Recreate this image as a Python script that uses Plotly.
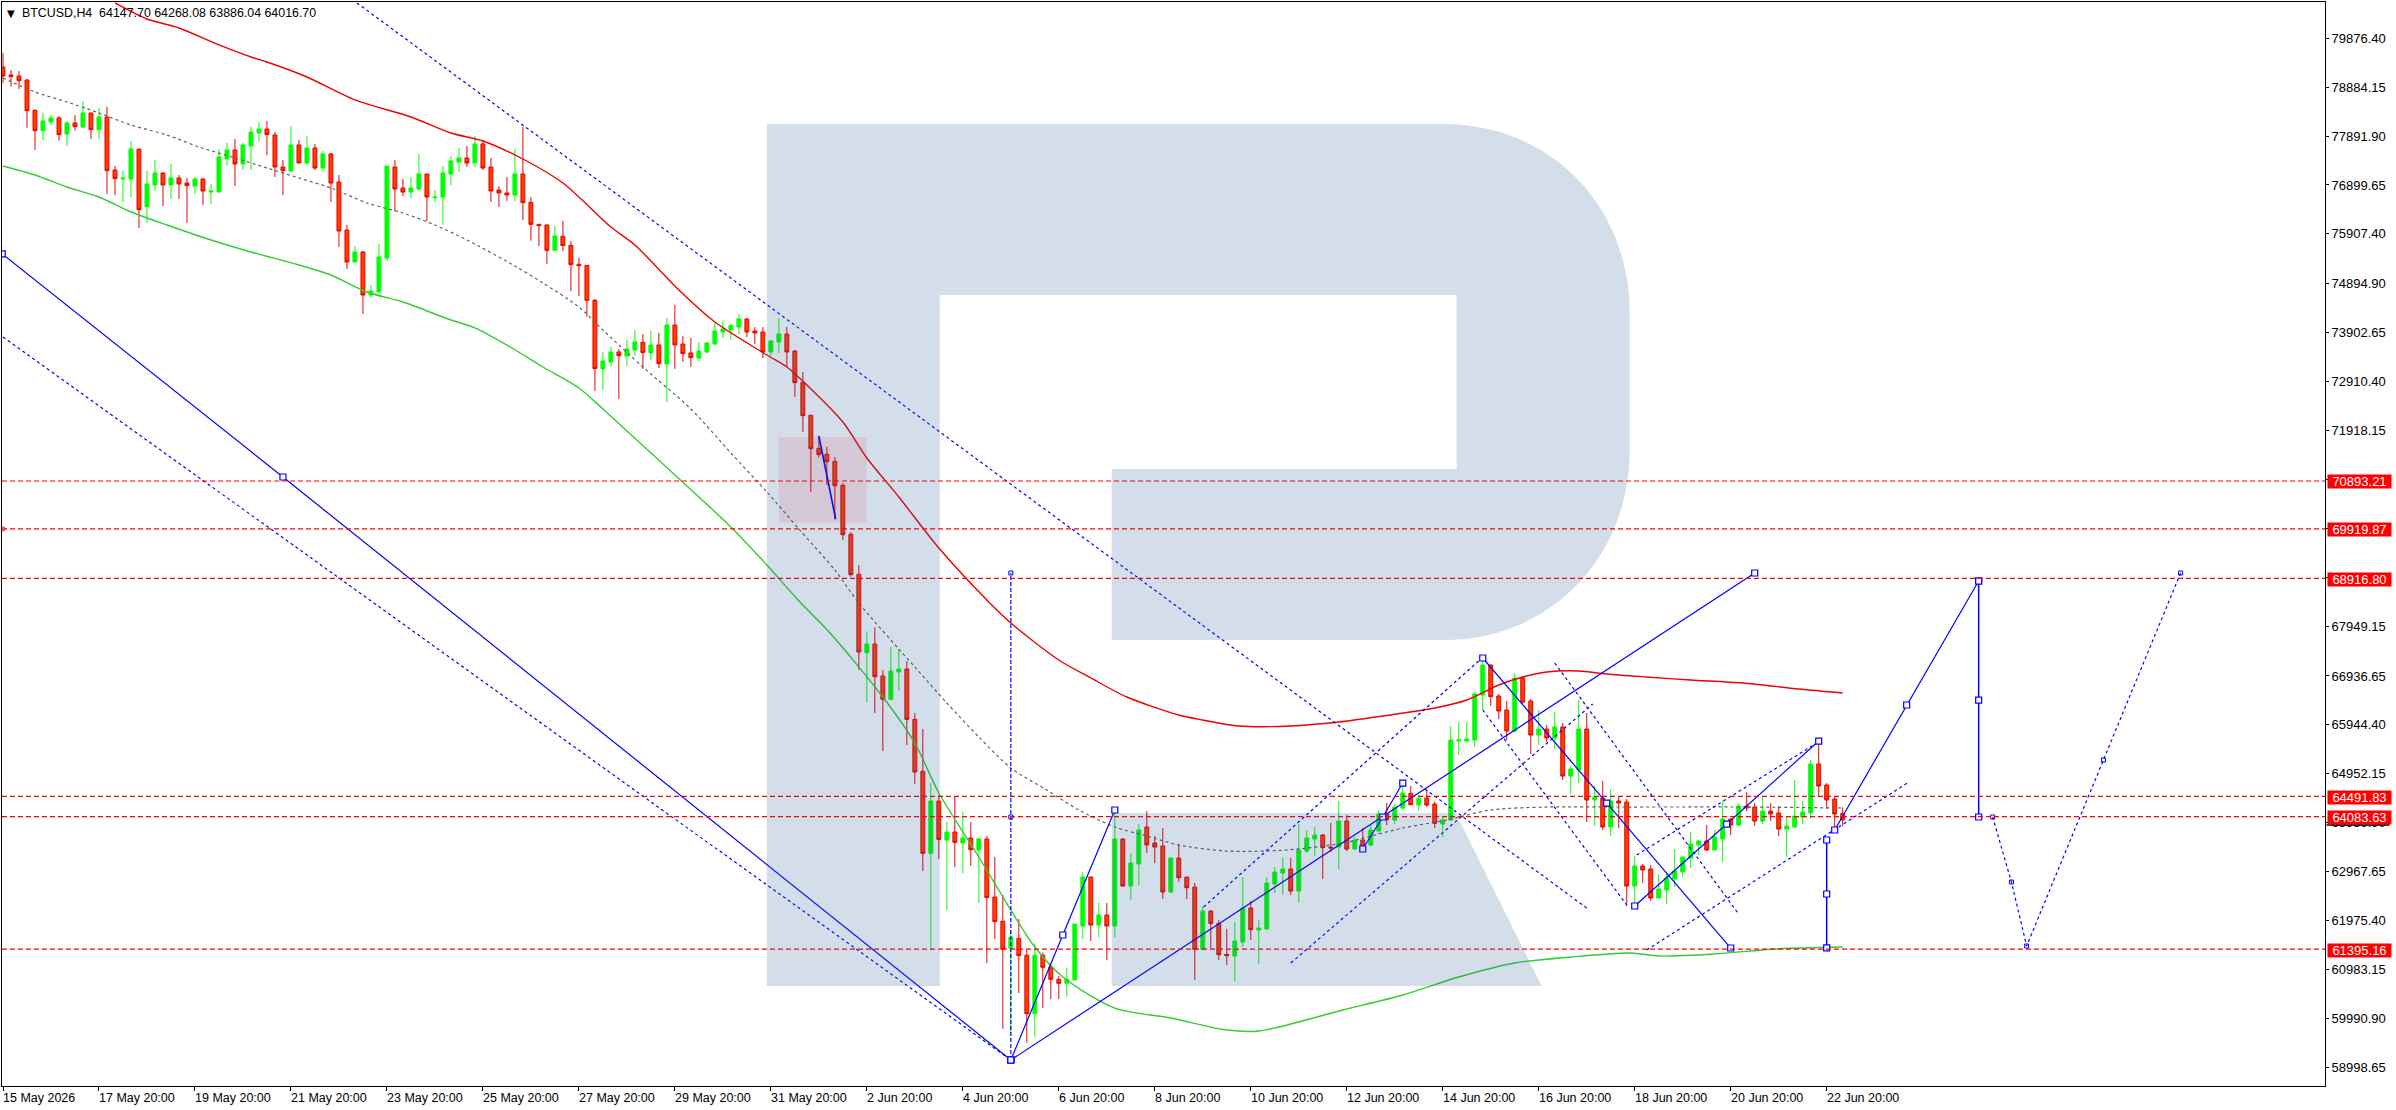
"""
BTCUSD H4 terminal chart with forecast drawing objects.
"""

import plotly.graph_objects as go

opens = [
    79294, 79132, 79111, 79030, 78415, 78002, 78178, 78259, 77934, 78158,
    78076, 78361, 78022, 78279, 77204, 77021, 77021, 77630, 76460, 76900,
    77143, 76900, 77042, 76940, 76879, 77021, 76757, 76757, 77427, 77610,
    77326, 77691, 77955, 78036, 77914, 77265, 77184, 77711, 77346, 77650,
    77244, 77529, 76960, 75986, 75337, 75540, 74667, 74728, 75418, 77265,
    76839, 76757, 76818, 77123, 76642, 76656, 77123, 77366, 77447, 77346,
    77732, 77265, 76798, 76737, 76697, 77123, 76548, 76101, 76088, 75574,
    75858, 75675, 75290, 75269, 74559, 73166, 73308, 73511, 73430, 73551,
    73707, 73491, 73653, 73267, 74059, 73673, 73491, 73389, 73511, 73673,
    73917, 73957, 74018, 74180, 73937, 73917, 73511, 73714, 73876, 73531,
    72895, 72226, 71556, 71434, 71292, 70805, 69811, 69000, 67409, 67585,
    66936, 66462, 67017, 67078, 66056, 65001, 63337, 64399, 63608, 63770,
    63547, 63648, 63405, 63628, 62451, 61958, 61410, 61613, 61268, 60083,
    61268, 61024, 60781, 60700, 60767, 61863, 62857, 61883, 62086, 61863,
    63628, 62675, 63121, 63872, 63547, 63486, 62553, 63242, 62856, 62653,
    61388, 62166, 61916, 61287, 61253, 61537, 62227, 61781, 61801, 62714,
    62937, 63019, 62572, 63384, 63627, 63709, 63465, 63465, 63993, 63425,
    63607, 63506, 63790, 64135, 64013, 64256, 64554, 64317, 64459, 64338,
    63932, 64014, 65617, 65617, 65637, 66550, 67159, 66530, 66246, 65820,
    66895, 66428, 65738, 65860, 65678, 65901, 64906, 65028, 65860, 64419,
    64460, 63872, 64399, 64379, 62674, 63080, 63019, 62431, 62593, 62816,
    62959, 63243, 63506, 63588, 63405, 63628, 64034, 63912, 64298, 64277,
    63993, 64196, 64156, 63831, 63872, 64074, 64156, 65150, 64724, 64440,
    64147.70,
]
highs = [
    79578, 79233, 79213, 79050, 78435, 78367, 78320, 78300, 78198, 78320,
    78604, 78367, 78469, 78489, 77285, 77184, 77792, 77630, 77184, 77407,
    77163, 77326, 77102, 77042, 77062, 77042, 76920, 77630, 77752, 77833,
    77752, 78076, 78178, 78198, 77975, 77407, 78097, 77813, 77894, 77732,
    77589, 77549, 77102, 76088, 75662, 75560, 74870, 75702, 77285, 77407,
    77021, 77062, 77529, 77123, 76798, 77285, 77488, 77650, 77691, 77894,
    77813, 77447, 76879, 77062, 77630, 78077, 76649, 76101, 76101, 76068,
    76169, 75763, 75418, 75276, 74586, 73511, 73612, 73572, 73754, 73957,
    73876, 73937, 73896, 74201, 74465, 73836, 73795, 73714, 73714, 74099,
    74140, 74079, 74282, 74201, 74018, 74018, 73754, 74201, 74018, 73551,
    73105, 72232, 71806, 71590, 71380, 70853, 69858, 69188, 67842, 67923,
    67058, 67524, 67477, 67240, 66185, 65860, 64765, 64521, 63973, 64487,
    64176, 63973, 63648, 63689, 63263, 62492, 61781, 62005, 61376, 61511,
    61322, 61092, 60848, 61011, 61903, 62959, 62857, 62330, 62330, 64149,
    63648, 63344, 63933, 64196, 63689, 63851, 63243, 63526, 62856, 62735,
    62268, 62187, 61984, 61801, 61943, 62856, 62369, 61984, 62856, 63059,
    63262, 63242, 63932, 63810, 63871, 63729, 63952, 64398, 64114, 63668,
    63851, 63912, 64216, 64358, 64338, 64723, 64703, 64520, 64622, 64386,
    64095, 65921, 66002, 66002, 66611, 67294, 67159, 66570, 66428, 66997,
    66915, 66469, 66246, 65941, 66205, 65982, 65109, 66449, 66185, 64704,
    64805, 64643, 64501, 64440, 63283, 63121, 63101, 62918, 62918, 63425,
    63263, 63770, 63608, 63912, 63811, 64399, 64034, 64359, 64582, 64359,
    64501, 64359, 64298, 64095, 64825, 64399, 65231, 65610, 64764, 64501,
    64268.08,
]
lows = [
    78970, 78895, 78848, 78063, 77610, 77813, 78117, 77799, 77691, 78002,
    78056, 77833, 77826, 76717, 76697, 76555, 76656, 76027, 76128, 76778,
    76473, 76615, 76615, 76128, 76717, 76494, 76514, 76757, 77305, 76879,
    77204, 77204, 77772, 77508, 77062, 76697, 77163, 77346, 77305, 77204,
    77163, 76555, 75641, 75195, 75337, 74282, 74607, 74728, 75357, 76372,
    76676, 76636, 76798, 76169, 76555, 76088, 76900, 77163, 77265, 77265,
    77204, 76555, 76453, 76575, 76575, 76189, 75770, 75662, 75297, 75560,
    75560, 74749, 74647, 74228, 72719, 72740, 73213, 72557, 73227, 73430,
    73166, 73348, 73186, 72496, 73166, 73308, 73206, 73328, 73491, 73653,
    73795, 73754, 73876, 73815, 73673, 73389, 73430, 73491, 73206, 72598,
    71887, 70670, 71367, 70812, 70115, 69696, 68952, 67058, 66408, 66185,
    65414, 66462, 66631, 65536, 64744, 62979, 61376, 63222, 62187, 63060,
    62938, 63080, 62330, 61112, 61599, 59778, 59651, 60503, 59494, 59616,
    60198, 60381, 60381, 60428, 60767, 61599, 61558, 61640, 61173, 61640,
    62654, 62390, 62695, 63344, 63141, 62411, 62532, 62755, 62410, 60766,
    61375, 61409, 61172, 61071, 60746, 61436, 61578, 61091, 61801, 62532,
    62491, 62491, 62329, 63343, 63282, 62816, 63364, 63019, 63384, 63404,
    63364, 63485, 63729, 63912, 63932, 64216, 64317, 64196, 64277, 63851,
    63669, 63993, 65333, 65596, 65495, 66246, 66327, 66063, 65637, 65799,
    66367, 65353, 65535, 65596, 65454, 64825, 64541, 64764, 63973, 63892,
    63811, 63689, 63851, 62268, 62268, 62735, 62370, 62431, 62309, 62654,
    62857, 63040, 63303, 63385, 63405, 63161, 63709, 63892, 64196, 63892,
    63932, 63993, 63689, 63263, 63851, 63932, 64034, 64501, 64237, 63811,
    63886.04,
]
closes = [
    79112, 79098, 79017, 78408, 78002, 78198, 78259, 77921, 78158, 78083,
    78361, 78022, 78279, 77190, 77028, 77042, 77630, 76399, 76920, 77143,
    76900, 77042, 76920, 76886, 77021, 76778, 76778, 77468, 77610, 77326,
    77711, 77975, 78036, 77921, 77265, 77190, 77711, 77346, 77650, 77244,
    77529, 76940, 75966, 75337, 75540, 74667, 74749, 75438, 77285, 76818,
    76757, 76839, 77123, 76656, 76656, 77143, 77387, 77447, 77346, 77732,
    77244, 76778, 76737, 76697, 77123, 76541, 76101, 76074, 75574, 75865,
    75669, 75283, 75263, 74559, 73173, 73328, 73511, 73436, 73572, 73714,
    73497, 73653, 73274, 74059, 73653, 73477, 73396, 73531, 73693, 73937,
    73978, 74045, 74180, 73917, 73896, 73511, 73734, 73876, 73511, 72889,
    72219, 71549, 71428, 71285, 70798, 69804, 68993, 67423, 67585, 66922,
    66462, 67037, 67078, 66056, 64988, 63337, 64399, 63621, 63770, 63561,
    63648, 63412, 63628, 62438, 61951, 61390, 61633, 61261, 60083, 61268,
    61024, 60781, 60700, 60781, 61903, 62857, 61883, 62086, 61863, 63628,
    62675, 63141, 63811, 63507, 63466, 62553, 63243, 62843, 62640, 61388,
    62166, 61916, 61280, 61260, 61558, 62227, 61788, 61821, 62735, 62958,
    63019, 62572, 63404, 63648, 63709, 63452, 63445, 63993, 63425, 63607,
    63485, 63810, 64135, 64020, 64277, 64561, 64324, 64459, 64317, 63946,
    64014, 65637, 65637, 65657, 66570, 67159, 66516, 66225, 65820, 66895,
    66408, 65738, 65860, 65678, 65901, 64906, 65049, 65860, 64419, 64480,
    63872, 64399, 64359, 62674, 63080, 63000, 62431, 62613, 62837, 62979,
    63263, 63527, 63588, 63405, 63669, 64034, 63912, 64298, 64257, 63993,
    64196, 64135, 63831, 63892, 64095, 64176, 65150, 64703, 64419, 64135,
    64016.70,
]
bars = list(range(len(closes)))

# Bollinger style envelope, sampled along the curve
upper_x = [14, 18, 22, 27, 31, 33, 38, 44, 51, 56, 60, 65, 70, 76, 79, 84.5, 89, 95.5, 98, 100.5,
           105, 108, 112, 117, 123, 126, 132, 136, 140.5, 147, 150, 154.5, 161, 167, 172.5, 179,
           183, 187, 190, 193, 197, 200.5, 205.5, 211, 217.5, 224.5, 230]
upper_y = [80593, 80268, 80086, 79741, 79497, 79396, 79091, 78625, 78280, 77955, 77793, 77427,
           76940, 76047, 75682, 74769, 74119, 73450, 73207, 72841, 72090, 71360, 70568, 69533,
           68478, 68011, 67260, 66896, 66510, 66145, 66043, 65921, 65921, 66002, 66124, 66286,
           66449, 66753, 66915, 67017, 67037, 66976, 66915, 66855, 66794, 66672, 66591]
middle_x = [0, 4, 8, 12, 16, 20.5, 24.5, 29, 33, 37, 41, 45.5, 50, 54, 58, 64, 67.5, 72, 75, 80,
            86, 91, 95.5, 99.6, 104, 107, 114, 118, 122, 126, 130.5, 134.5, 139, 143, 147, 153,
            160.5, 167.5, 175, 180.5, 186, 193, 203.5, 218, 230]
middle_y = [79071, 78787, 78584, 78361, 78117, 77914, 77671, 77448, 77245, 77042, 76839, 76535,
            76332, 76088, 75784, 75256, 74911, 74424, 73957, 73206, 72354, 71461, 70670, 69899,
            69087, 68417, 67118, 66388, 65698, 65069, 64622, 64217, 63872, 63689, 63506, 63384,
            63405, 63547, 63851, 64014, 64217, 64277, 64277, 64277, 64257]
lower_x = [0, 4, 8, 12, 16, 20.5, 26, 31, 37, 41, 45.5, 50, 56, 59, 63.4, 67.5, 72, 75, 87, 91,
           95.5, 99.4, 103.4, 110, 114, 117, 122, 126, 129, 132.5, 139, 146, 153, 157, 167.5,
           175, 182, 189, 196, 203.5, 207, 214, 221.5, 230]
lower_y = [77286, 77103, 76859, 76656, 76352, 76088, 75784, 75540, 75276, 75073, 74728, 74525,
           74160, 73998, 73612, 73206, 72780, 72354, 70568, 69960, 69188, 68478, 67808, 66509,
           65576, 64561, 63263, 62187, 61436, 60828, 60198, 59996, 59752, 59732, 60158, 60462,
           60828, 61112, 61234, 61315, 61254, 61295, 61396, 61436]

# Horizontal levels
level_prices = [70893.21, 69919.87, 68916.80, 64491.83, 64083.63, 61395.16]

# Price scale
price_ticks = [79876.40, 78884.15, 77891.90, 76899.65, 75907.40, 74894.90, 73902.65, 72910.40,
               71918.15, 70925.90, 69933.65, 68941.40, 67949.15, 66936.65, 65944.40, 64952.15,
               63959.90, 62967.65, 61975.40, 60983.15, 59990.90, 58998.65]

# Time scale
time_ticks = list(range(0, 229, 12))
time_labels = ["15 May 2026", "17 May 20:00", "19 May 20:00", "21 May 20:00", "23 May 20:00",
               "25 May 20:00", "27 May 20:00", "29 May 20:00", "31 May 20:00", "2 Jun 20:00",
               "4 Jun 20:00", "6 Jun 20:00", "8 Jun 20:00", "10 Jun 20:00", "12 Jun 20:00",
               "14 Jun 20:00", "16 Jun 20:00", "18 Jun 20:00", "20 Jun 20:00", "22 Jun 20:00"]

# Drawing objects: solid blue waves with anchor points
drop_x = [-0.1, 35, 126]
drop_y = [75500, 70974, 59144]
rise_long_x = [126, 219]
rise_long_y = [59144, 69026]
rise_first_x = [126, 132.5, 139]
rise_first_y = [59144, 61680, 64217]
rise_small_x = [170, 172.5, 175]
rise_small_y = [63425, 64075, 64764]
fall_x = [185, 200.5, 216]
fall_y = [67301, 64358, 61416]
rise_june_x = [204, 215.5, 227]
rise_june_y = [62269, 63932, 65616]
target_x = [229, 238, 247]
target_y = [63811, 66347, 68864]
range_left_x = [228, 228, 228]
range_left_y = [63608, 62512, 61417]
range_right_x = [247, 247, 247]
range_right_y = [68864, 66448, 64075]

# Short solid segment over the candles
swing_x = [102, 104.1]
swing_y = [71806, 70122]

# Dashed channels
drop_edge_x = [0, 126]
drop_edge_y = [73815, 59144]
drop_top_x = [44.25, 198]
drop_top_y = [80593, 62228]
rise_edge_up_x = [150.1, 184.9]
rise_edge_up_y = [62248, 67301]
rise_edge_low_x = [161, 198.75]
rise_edge_low_y = [61112, 66368]
fall_edge_a_x = [185, 203]
fall_edge_a_y = [66246, 62289]
fall_edge_b_x = [194, 216.9]
fall_edge_b_y = [67200, 62127]
june_edge_up_x = [204.25, 226.75]
june_edge_up_y = [63304, 65576]
june_edge_low_x = [205.5, 238.1]
june_edge_low_y = [61376, 64765]
forecast_x = [248.75, 251.1, 253, 262.6, 272.25]
forecast_y = [64075, 62755, 61457, 65231, 69026]
drop_range_x = [126, 126, 126]
drop_range_y = [59144, 64075, 69026]

# Alert mark on the left edge
alert_x = [0]
alert_y = [69919.87]

# Pink zone behind the candles
zone_x = [97, 108]
zone_y = [70046, 71786]

BLUE = "#0000ff"
RED = "#ff0000"
FONT = "Liberation Sans"

PLOT_LEFT, PLOT_RIGHT, PLOT_TOP, PLOT_BOTTOM = 2, 2325.5, 2, 1086


def paper_x(px):
    return (px - PLOT_LEFT) / (PLOT_RIGHT - PLOT_LEFT)


def paper_y(px):
    return (PLOT_BOTTOM - px) / (PLOT_BOTTOM - PLOT_TOP)


def logo_path(commands):
    """Build an SVG path for the watermark from window pixel positions."""
    parts = []
    for cmd, *pts in commands:
        coords = " ".join(f"{paper_x(x):.5f},{paper_y(y):.5f}" for x, y in pts)
        parts.append(f"{cmd} {coords}")
    return " ".join(parts) + " Z"


def add_line(fig, x, y, width=1.2, dash="solid", anchors=False, small=False):
    mode = "lines+markers" if anchors or small else "lines"
    marker = dict(symbol="square", size=6, color="white", line=dict(color=BLUE, width=1.2))
    if small:
        marker = dict(symbol="square-open", size=4, color=BLUE, line=dict(color=BLUE, width=1))
    fig.add_trace(go.Scatter(
        x=x, y=y,
        mode=mode,
        line=dict(color=BLUE, width=width, dash=dash),
        marker=marker,
        hoverinfo="skip",
    ))


fig = go.Figure()

fig.add_trace(go.Candlestick(
    x=bars, open=opens, high=highs, low=lows, close=closes,
    increasing=dict(line=dict(color="#00ff00", width=1), fillcolor="#00ff00"),
    decreasing=dict(line=dict(color="#f00000", width=1), fillcolor="#ff3c00"),
    whiskerwidth=0,
    hoverinfo="skip",
))

# Envelope
fig.add_trace(go.Scatter(x=upper_x, y=upper_y, mode="lines", hoverinfo="skip",
                         line=dict(color="#f00000", width=1.4, shape="spline", smoothing=0.8)))
fig.add_trace(go.Scatter(x=middle_x, y=middle_y, mode="lines", hoverinfo="skip",
                         line=dict(color="#606060", width=1.2, dash="3px,3px", shape="spline",
                                   smoothing=0.8)))
fig.add_trace(go.Scatter(x=lower_x, y=lower_y, mode="lines", hoverinfo="skip",
                         line=dict(color="#32cd32", width=1.4, shape="spline", smoothing=0.8)))

# Dashed objects
for x, y in [(drop_edge_x, drop_edge_y), (drop_top_x, drop_top_y),
             (rise_edge_up_x, rise_edge_up_y), (rise_edge_low_x, rise_edge_low_y),
             (fall_edge_a_x, fall_edge_a_y), (fall_edge_b_x, fall_edge_b_y),
             (june_edge_up_x, june_edge_up_y), (june_edge_low_x, june_edge_low_y)]:
    add_line(fig, x, y, dash="3px,3px")
add_line(fig, forecast_x, forecast_y, dash="3px,3px", small=True)
add_line(fig, drop_range_x, drop_range_y, dash="4px,2px", small=True)

# Solid objects
add_line(fig, swing_x, swing_y, width=1.6)
add_line(fig, drop_x, drop_y, anchors=True)
add_line(fig, rise_long_x, rise_long_y, anchors=True)
for x, y in [(rise_first_x, rise_first_y), (rise_small_x, rise_small_y), (fall_x, fall_y),
             (rise_june_x, rise_june_y), (target_x, target_y)]:
    add_line(fig, x, y, anchors=True)
for x, y in [(range_left_x, range_left_y), (range_right_x, range_right_y)]:
    add_line(fig, x, y, width=1.5, anchors=True)

fig.add_trace(go.Scatter(x=alert_x, y=alert_y, mode="markers", hoverinfo="skip",
                         marker=dict(symbol="circle-open", size=4, color=RED,
                                     line=dict(color=RED, width=1))))

# Zone behind candles
fig.add_shape(type="rect", layer="below", xref="x", yref="y",
              x0=zone_x[0], x1=zone_x[1], y0=zone_y[0], y1=zone_y[1],
              fillcolor="#ffe3e6", line_width=0)

# Levels with their price flags
for level in level_prices:
    fig.add_shape(type="line", xref="paper", yref="y", x0=0, x1=1, y0=level, y1=level,
                  line=dict(color=RED, width=1.2, dash="5px,3px"))
    fig.add_annotation(xref="paper", yref="y", x=1, y=level, xanchor="left", yanchor="middle",
                       xshift=1.5, yshift=-1, showarrow=False, text=f"{level:.2f}",
                       font=dict(family=FONT, size=13, color="white"),
                       bgcolor=RED, width=63, height=13, borderpad=0, align="center")

# Last price line on the scale
fig.add_shape(type="line", xref="paper", yref="paper",
              x0=paper_x(2327), x1=paper_x(2390), y0=paper_y(825), y1=paper_y(825),
              line=dict(color="black", width=1.5))

# Watermark, blended over everything on the chart
fig.add_shape(type="path", layer="above", xref="paper", yref="paper", line_width=0,
              fillcolor="rgba(40,90,150,0.2)",
              path=logo_path([
                  ("M", (767, 124)), ("L", (1444, 124)),
                  ("C", (1550, 124), (1630, 205), (1630, 313)),
                  ("L", (1630, 450)),
                  ("C", (1630, 558), (1550, 640), (1444, 640)),
                  ("L", (1112, 640)), ("L", (1112, 469)), ("L", (1457, 469)),
                  ("L", (1457, 295)), ("L", (940, 295)), ("L", (940, 986)), ("L", (767, 986)),
              ]))
fig.add_shape(type="path", layer="above", xref="paper", yref="paper", line_width=0,
              fillcolor="rgba(40,90,150,0.2)",
              path=logo_path([
                  ("M", (1112, 813)), ("L", (1456, 813)), ("L", (1542, 986)), ("L", (1112, 986)),
              ]))

# Time labels sit to the right of their ticks
for bar, label in zip(time_ticks, time_labels):
    fig.add_annotation(xref="x", yref="paper", x=bar, y=0, xanchor="left", yanchor="top",
                       yshift=-3, xshift=-2, showarrow=False, text=label,
                       font=dict(family=FONT, size=12.5, color="black"))

# Symbol header
fig.add_annotation(xref="paper", yref="paper", x=paper_x(5), y=paper_y(13), xanchor="left",
                   yanchor="middle", showarrow=False, text="▼",
                   font=dict(family="DejaVu Sans", size=10, color="black"))
fig.add_annotation(xref="paper", yref="paper", x=paper_x(20), y=paper_y(13), xanchor="left",
                   yanchor="middle", showarrow=False,
                   text="BTCUSD,H4  64147.70 64268.08 63886.04 64016.70",
                   font=dict(family=FONT, size=12.4, color="black"))

fig.update_layout(
    width=2396,
    height=1110,
    margin=dict(l=PLOT_LEFT, r=2396 - PLOT_RIGHT, t=PLOT_TOP, b=1110 - PLOT_BOTTOM, pad=0),
    paper_bgcolor="white",
    plot_bgcolor="white",
    showlegend=False,
    hovermode=False,
    font=dict(family=FONT, size=13, color="black"),
    xaxis=dict(
        range=[-0.125, 290.3],
        rangeslider=dict(visible=False),
        tickmode="array",
        tickvals=time_ticks,
        showticklabels=False,
        ticks="outside",
        ticklen=4,
        tickcolor="black",
        showgrid=False,
        zeroline=False,
        showline=True,
        linecolor="black",
        linewidth=1,
        mirror=True,
    ),
    yaxis=dict(
        range=[58616, 80613],
        side="right",
        tickmode="array",
        tickvals=price_ticks,
        ticktext=[f"{p:.2f}" for p in price_ticks],
        ticks="outside",
        ticklen=3,
        tickcolor="black",
        showgrid=False,
        zeroline=False,
        showline=True,
        linecolor="black",
        linewidth=1,
        mirror=True,
        tickfont=dict(family=FONT, size=13, color="black"),
    ),
)

fig.write_html("out.html", config=dict(displayModeBar=False),
               post_script="document.body.style.margin='0';")
